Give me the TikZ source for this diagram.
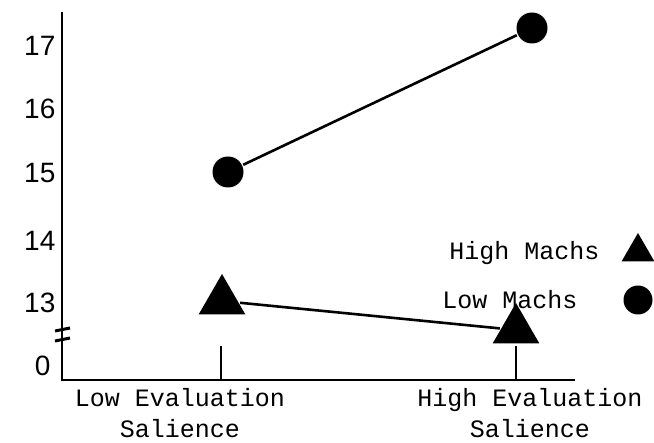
\documentclass[tikz,border=0pt]{standalone}
\usepackage{fontspec}
\setmonofont{Liberation Mono}
\newfontfamily\numfont{Liberation Sans}
\usetikzlibrary{positioning,shapes.geometric}

\tikzset{
  hmach/.style={regular polygon, regular polygon sides=3, fill=black, inner sep=0pt, minimum size=54pt},
  lmach/.style={circle, fill=black, inner sep=0pt, minimum size=31pt},
  ylab/.style={font=\numfont\fontsize{28}{28}\selectfont, anchor=east},
  txt/.style={font=\ttfamily\fontsize{25}{31}\selectfont, align=center},
}

\begin{document}
\begin{tikzpicture}[x=1pt,y=-1pt, line width=2.6pt]
	\useasboundingbox (0,0) rectangle (654,443);
	%% axes
	\coordinate (o) at (62,380);
	\coordinate (ytop) at (62,12);
	\coordinate (xend) at (575,380);
	\draw (ytop) -- (o) -- (xend);
	\coordinate (lt) at (221,380);
	\coordinate (ht) at (516,380);
	\draw (lt) -- ++(0,-34);
	\draw (ht) -- ++(0,-34);
	% break on the y axis
	\draw[line width=3pt] (55,331) -- (70,328);
	\draw[line width=3pt] (55,341) -- (70,338);
	%% tick labels
	\node[ylab] (y17) at (60,46) {17};
	\node[ylab] (y16) at (60,109) {16};
	\node[ylab] (y15) at (60,173) {15};
	\node[ylab] (y14) at (60,241) {14};
	\node[ylab] (y13) at (60,303) {13};
	\node[ylab] (y0) at (55,366) {0};
	\node[txt] (lowx) at (180,413) {Low Evaluation\\Salience};
	\node[txt] (highx) at (530,413) {High Evaluation\\Salience};
	%% data
	\node[lmach] (l1) at (228,172) {};
	\node[lmach] (l2) at (532,28) {};
	\node[hmach] (h1) at (222,301) {};
	\node[hmach] (h2) at (516,330) {};
	\draw (l1) -- (l2);
	\draw (h1) -- (h2);
	%% legend
	\node[hmach, minimum size=38pt] (hkey) at (638,252) {};
	\node[lmach, minimum size=29pt] (lkey) at (638,300) {};
	\node[txt, anchor=east] (htxt) at (604,253) {High Machs};
	\node[txt, anchor=east] (ltxt) at (582,300) {Low Machs};
\end{tikzpicture}
\end{document}
